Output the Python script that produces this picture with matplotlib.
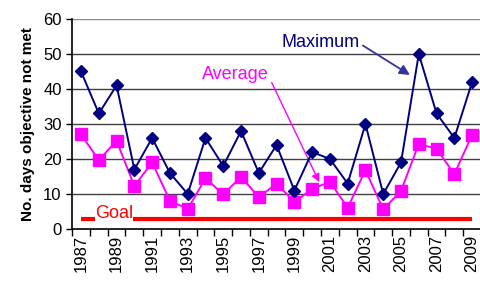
import matplotlib
matplotlib.use("Agg")
import matplotlib.pyplot as plt
import numpy as np

plt.rcParams['font.family'] = ['Liberation Sans', 'DejaVu Sans']

years = list(range(1987, 2010))
maximum = [45, 33, 41, 17, 26, 16, 10, 26, 18, 28, 16, 24, 11, 22, 20, 13, 30, 10, 19, 50, 33, 26, 42]
average = [27, 19.7, 25.2, 12.3, 19, 8.1, 5.7, 14.5, 9.9, 14.9, 9.1, 13, 7.7, 11.4, 13.5, 6.1, 16.8, 5.6, 10.9, 24.3, 22.9, 15.7, 26.9]
goal = [3] * len(years)
yticks = [0, 10, 20, 30, 40, 50, 60]

fig = plt.figure(figsize=(4.81, 2.87), dpi=100)
ax = fig.add_axes([0.150, 0.202, 0.850, 0.732])

x = np.arange(len(years))
ax.plot(x, goal, color='#FF0000', lw=3, solid_capstyle='butt', zorder=2)
ax.plot(x, average, color='#FF00FF', lw=1.4, marker='s', ms=8, zorder=3)
ax.plot(x, maximum, color='#000080', lw=1.4, marker='D', ms=6, zorder=4)

ax.set_xlim(-0.5, 22.28)
ax.set_ylim(0, 60)
ax.set_yticks(yticks)
ax.tick_params(axis='y', labelsize=12, length=4, width=1)
ax.set_xticks(x[::2])
ax.set_xticklabels([str(y) for y in years[::2]], rotation=90, fontsize=12)
ax.set_xticks(np.arange(-0.5, len(years), 1), minor=True)
ax.tick_params(axis='x', which='major', length=0, pad=4)
ax.tick_params(axis='x', which='minor', length=5, width=1)
for yv in yticks[1:]:
    ax.axhline(yv, color='#404040' if yv < 60 else '#8c8c8c', lw=1, zorder=1)
for s in ['top', 'right']:
    ax.spines[s].set_visible(False)
ax.spines['left'].set_linewidth(1.2)
ax.spines['bottom'].set_linewidth(1.2)

ax.set_ylabel('No. days objective not met', fontsize=11, fontweight='bold', labelpad=6)

ax.annotate('Maximum', xy=(18.5, 44), xytext=(13.5, 53.4), fontsize=13, color='#000080',
            ha='center', va='center',
            arrowprops=dict(arrowstyle='-|>', color='#333399', lw=1.3, mutation_scale=15,
                            shrinkA=0, shrinkB=0, relpos=(1.0, 0.4)))
ax.annotate('Average', xy=(13.4, 13.4), xytext=(8.69, 44), fontsize=13, color='#FF00FF',
            ha='center', va='center',
            arrowprops=dict(arrowstyle='-|>', color='#FF00FF', lw=1, mutation_scale=12,
                            shrinkA=0, shrinkB=0, relpos=(1.0, 0.4)))
ax.text(1.84, 4.3, 'Goal', fontsize=13, color='#FF0000', ha='center', va='center', zorder=5,
        bbox=dict(facecolor='white', edgecolor='none', pad=0.1))

fig.savefig('out.png', dpi=100)
